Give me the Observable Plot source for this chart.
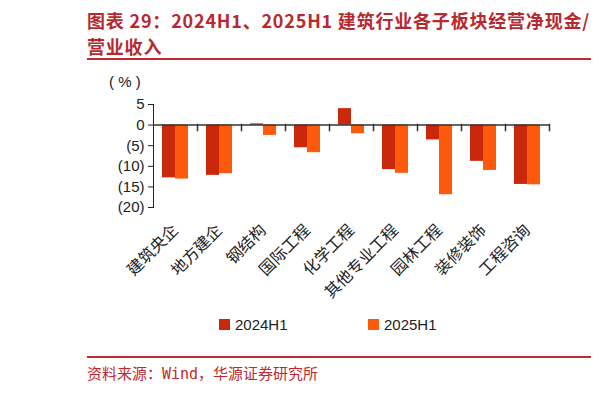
<!DOCTYPE html>
<html>
<head>
<meta charset="utf-8">
<script src="https://cdn.jsdelivr.net/npm/d3@7"></script>
<script src="https://cdn.jsdelivr.net/npm/@observablehq/plot@0.6"></script>
<style>
  html, body { margin: 0; padding: 0; background: #fff; }
  #wrap { position: relative; width: 614px; height: 396px; overflow: hidden; background: #fff; }
  .abs { position: absolute; white-space: nowrap; }
  .title { left: 87px; color: #b8292f; font-family: "Noto Sans CJK SC", sans-serif; font-weight: bold; font-size: 18px; letter-spacing: 0.8px; line-height: 1; }
  .rule { left: 87px; width: 504px; height: 2px; background: #c0282e; }
  .src { left: 87px; top: 367px; color: #c0282e; font-family: "DejaVu Sans Mono", "Noto Sans CJK SC", monospace; font-size: 15px; line-height: 1; }
  .unit { left: 109px; top: 73px; font-family: "Liberation Sans", Arial, sans-serif; font-size: 15px; color: #222; }
  .leg { font-family: "Liberation Sans", Arial, sans-serif; font-size: 15px; color: #222; line-height: 1; }
  .sw { width: 11px; height: 11px; }
  #chart { position: absolute; left: 0; top: 0; }
</style>
</head>
<body>
<div id="wrap">
  <div class="abs title" style="top:11px">图表 29：2024H1、2025H1 建筑行业各子板块经营净现金/</div>
  <div class="abs title" style="top:37px">营业收入</div>
  <div class="abs rule" style="top:58px"></div>
  <div class="abs unit">( % )</div>
  <div id="chart"></div>
  <div id="legend"></div>
  <div class="abs rule" style="top:356px"></div>
  <div class="abs src">资料来源：Wind，华源证券研究所</div>
</div>
<script>
const categories = ["建筑央企", "地方建企", "钢结构", "国际工程", "化学工程", "其他专业工程", "园林工程", "装修装饰", "工程咨询"];
const series = ["2024H1", "2025H1"];
const v2024 = [-12.8, -12.2, 0.3, -5.5, 4.0, -10.8, -3.6, -8.8, -14.4];
const v2025 = [-13.1, -11.8, -2.5, -6.7, -2.1, -11.7, -16.9, -11.0, -14.5];
const yTicks = [5, 0, -5, -10, -15, -20];
const colors = ["#c9290a", "#fd5a0e"];

const data = [];
categories.forEach((c, i) => {
  data.push({cat: c, s: series[0], v: v2024[i]});
  data.push({cat: c, s: series[1], v: v2025[i]});
});

const chart = Plot.plot({
  width: 614,
  height: 320,
  marginLeft: 151,
  marginRight: 64,
  marginTop: 104,
  marginBottom: 113,
  style: {fontFamily: "'Liberation Sans', Arial, sans-serif", fontSize: "15px", color: "#222", background: "transparent"},
  fx: {domain: categories, padding: 0, label: null, axis: "bottom", tickRotate: -45, tickSize: 0, tickPadding: 20},
  x: {domain: series, paddingInner: 0, paddingOuter: 0.62, axis: null},
  y: {domain: [-20, 5], ticks: yTicks, tickFormat: d => d < 0 ? `(${-d})` : `${d}`, tickSize: 5, tickPadding: 4, line: true, label: null},
  color: {domain: series, range: colors},
  marks: [
    Plot.barY(data, {fx: "cat", x: "s", y: "v", fill: "s"}),
    Plot.ruleY([0], {stroke: "#333", strokeWidth: 1.5}),
    Plot.frame({anchor: "right", insetTop: 20, insetBottom: 77, stroke: "#333", strokeWidth: 1.5})
  ]
});
chart.querySelectorAll("g[aria-label='fx-axis tick label']").forEach(el => {
  el.setAttribute("font-family", "'Noto Sans CJK SC', sans-serif");
  el.setAttribute("font-size", "16px");
  el.querySelectorAll("text").forEach(t => t.setAttribute("fill", "#222"));
});
document.getElementById("chart").appendChild(chart);

const legend = document.getElementById("legend");
const legX = [219, 368];
series.forEach((s, i) => {
  const sw = document.createElement("div");
  sw.className = "abs sw";
  sw.style.left = legX[i] + "px";
  sw.style.top = "319px";
  sw.style.background = colors[i];
  legend.appendChild(sw);
  const t = document.createElement("div");
  t.className = "abs leg";
  t.style.left = (legX[i] + 16) + "px";
  t.style.top = "317px";
  t.textContent = s;
  legend.appendChild(t);
});
</script>
</body>
</html>
